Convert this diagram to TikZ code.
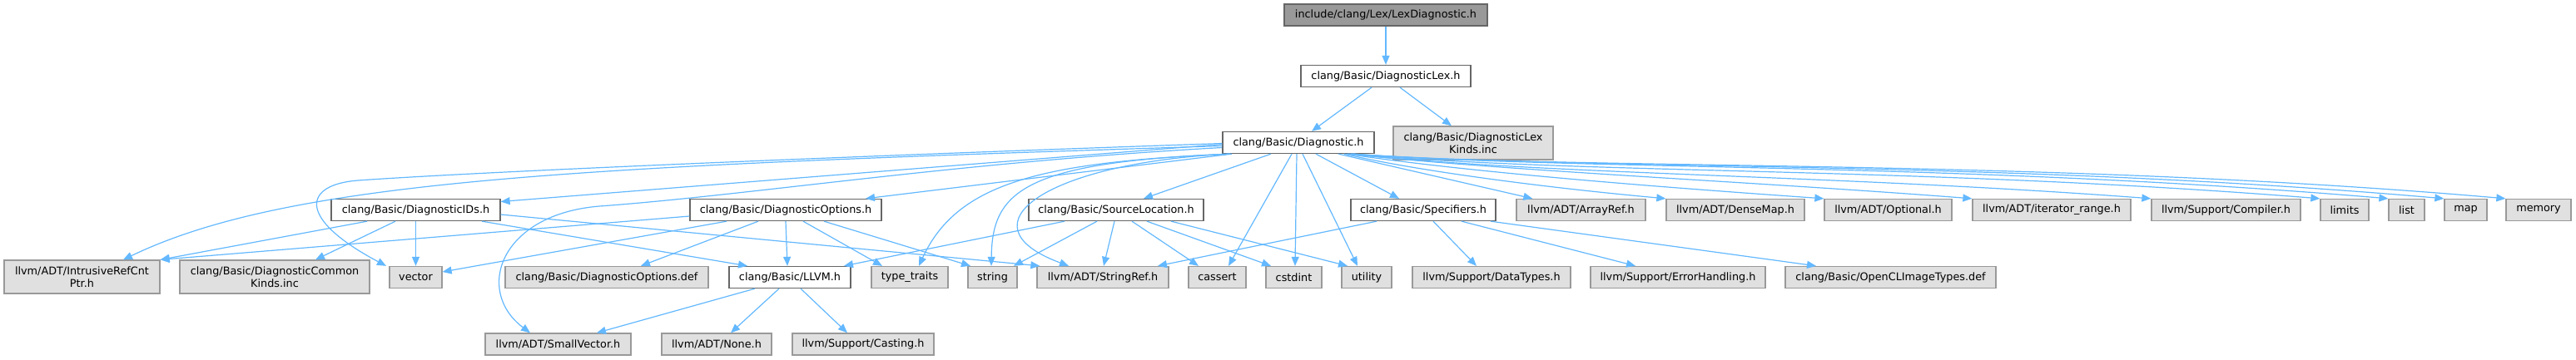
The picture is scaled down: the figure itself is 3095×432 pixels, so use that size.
\documentclass[tikz,border=0pt]{standalone}
\usepackage{fontspec}
\setmainfont{DejaVu Sans}
\usetikzlibrary{arrows.meta}
\definecolor{edgec}{HTML}{63B8FF}
\definecolor{boxgray}{HTML}{E0E0E0}
\definecolor{bordgray}{HTML}{999999}
\definecolor{bordwhite}{HTML}{666666}
\definecolor{rootgray}{HTML}{999999}
\begin{document}
\begin{tikzpicture}[x=1pt,y=-1pt,
  box/.style={rectangle, inner sep=0pt, minimum height=26pt, font=\fontsize{12.8}{15}\selectfont, line width=1.3pt, align=center},
  gbox/.style={box, fill=boxgray, draw=bordgray},
  wbox/.style={box, fill=white, draw=bordwhite},
  rbox/.style={box, fill=rootgray, draw=bordwhite},
  tall/.style={minimum height=40pt},
  edge/.style={draw=edgec, line width=1.2pt, -{Triangle[length=11pt,width=9pt]}}
]
\useasboundingbox (0,0) rectangle (3095,432);
% row 0-2
\node[rbox, minimum width=244pt] (root) at (1665,18) {include/clang/Lex/LexDiagnostic.h};
\node[wbox, minimum width=204pt] (dlex) at (1665,91.5) {clang/Basic/DiagnosticLex.h};
\node[wbox, minimum width=182pt] (diag) at (1560,171.5) {clang/Basic/Diagnostic.h};
\node[gbox, tall, minimum width=192pt] (lexkinds) at (1770,172) {clang/Basic/DiagnosticLex\\Kinds.inc};
% row 3
\node[wbox, minimum width=203pt] (ids) at (499.5,252.5) {clang/Basic/DiagnosticIDs.h};
\node[wbox, minimum width=230pt] (opts) at (944,252.5) {clang/Basic/DiagnosticOptions.h};
\node[wbox, minimum width=210pt] (srcloc) at (1341,252.5) {clang/Basic/SourceLocation.h};
\node[wbox, minimum width=174pt] (spec) at (1710,252.5) {clang/Basic/Specifiers.h};
\node[gbox, minimum width=155pt] (arrayref) at (1899.5,252.5) {llvm/ADT/ArrayRef.h};
\node[gbox, minimum width=166pt] (densemap) at (2085,252.5) {llvm/ADT/DenseMap.h};
\node[gbox, minimum width=153pt] (optional) at (2268.5,252.5) {llvm/ADT/Optional.h};
\node[gbox, minimum width=190pt] (iterrange) at (2465,252.5) {llvm/ADT/iterator\_range.h};
\node[gbox, minimum width=179pt] (compiler) at (2674.5,252.5) {llvm/Support/Compiler.h};
\node[gbox, minimum width=58pt] (limits) at (2817,252.5) {limits};
\node[gbox, minimum width=43pt] (list) at (2891.5,252.5) {list};
\node[gbox, minimum width=51pt] (map) at (2962.5,252.5) {map};
\node[gbox, minimum width=78pt] (memory) at (3050,252.5) {memory};
% row 4
\node[gbox, tall, minimum width=187pt] (intrusive) at (98.5,333) {llvm/ADT/IntrusiveRefCnt\\Ptr.h};
\node[gbox, tall, minimum width=228pt] (commonkinds) at (330,333) {clang/Basic/DiagnosticCommon\\Kinds.inc};
\node[gbox, minimum width=63pt] (vector) at (499.5,333.5) {vector};
\node[gbox, minimum width=244pt] (optdef) at (729,333.5) {clang/Basic/DiagnosticOptions.def};
\node[wbox, minimum width=146pt] (llvm) at (949,333.5) {clang/Basic/LLVM.h};
\node[gbox, minimum width=92pt] (typetraits) at (1093,333.5) {type\_traits};
\node[gbox, minimum width=59pt] (string) at (1192.5,333.5) {string};
\node[gbox, minimum width=158pt] (stringref) at (1325,333.5) {llvm/ADT/StringRef.h};
\node[gbox, minimum width=69pt] (cassert) at (1462.5,333.5) {cassert};
\node[gbox, minimum width=67pt] (cstdint) at (1554.5,333.5) {cstdint};
\node[gbox, minimum width=60pt] (utility) at (1642,333.5) {utility};
\node[gbox, minimum width=190pt] (datatypes) at (1792,333.5) {llvm/Support/DataTypes.h};
\node[gbox, minimum width=210pt] (errhandling) at (2016,333.5) {llvm/Support/ErrorHandling.h};
\node[gbox, minimum width=253pt] (opencl) at (2271.5,333.5) {clang/Basic/OpenCLImageTypes.def};
% row 5
\node[gbox, minimum width=175pt] (smallvec) at (670.5,414) {llvm/ADT/SmallVector.h};
\node[gbox, minimum width=132pt] (none) at (861,414) {llvm/ADT/None.h};
\node[gbox, minimum width=170pt] (casting) at (1037,414) {llvm/Support/Casting.h};

% edges
\draw[edge] (root) -- (dlex);
\draw[edge] ([xshift=-17pt]dlex.south) -- ([xshift=16pt]diag.north);
\draw[edge] ([xshift=17pt]dlex.south) -- ([xshift=-26pt]lexkinds.north);

% Diagnostic.h to the left
\draw[edge] ([yshift=-2pt]diag.west) -- ([yshift=10pt]ids.east);
\draw[edge] ([yshift=-4pt]diag.west) .. controls (700,200) and (350,215) .. ([xshift=49.5pt]intrusive.north);
\draw[edge] ([yshift=-1pt]diag.west) .. controls (1100,185) and (600,205) .. (430,217) .. controls (365,222) and (355,262) .. ([xshift=-35.5pt]vector.north);
\draw[edge] ([yshift=-6pt]diag.west) .. controls (1150,195) and (900,235) .. (720,248) .. controls (600,258) and (570,350) .. ([xshift=-33.5pt]smallvec.north);
\draw[edge] ([xshift=-80pt]diag.south) -- ([xshift=96pt]opts.north);
\draw[edge] ([xshift=-82pt]diag.south) .. controls (1250,195) and (1150,220) .. ([xshift=11pt]typetraits.north);
\draw[edge] ([xshift=-82pt]diag.south) .. controls (1230,195) and (1192,230) .. ([xshift=-1.5pt]string.north);
\draw[edge] ([xshift=-82pt]diag.south) .. controls (1260,195) and (1150,270) .. ([xshift=-41pt]stringref.north);
% Diagnostic.h downwards
\draw[edge] ([xshift=-33pt]diag.south) -- ([xshift=33pt]srcloc.north);
\draw[edge] ([xshift=-8pt]diag.south) -- ([xshift=13.5pt]cassert.north);
\draw[edge] ([xshift=-2pt]diag.south) -- ([xshift=1.5pt]cstdint.north);
\draw[edge] ([xshift=5pt]diag.south) -- ([xshift=-11pt]utility.north);
\draw[edge] ([xshift=21pt]diag.south) -- ([xshift=-29pt]spec.north);
% Diagnostic.h to the right
\draw[edge] ([xshift=48pt]diag.south) -- ([xshift=20pt]arrayref.north west);
\draw[edge] ([xshift=55pt]diag.south) .. controls (1700,205) and (1850,225) .. (densemap.north west);
\draw[edge] ([xshift=58pt]diag.south) .. controls (1750,205) and (1950,222) .. (optional.north west);
\draw[edge] ([xshift=60pt]diag.south) .. controls (1800,205) and (2100,218) .. (iterrange.north west);
\draw[edge] ([xshift=62pt]diag.south) .. controls (1850,210) and (2200,210) .. (compiler.north west);
\draw[edge] ([xshift=63pt]diag.south) .. controls (1900,210) and (2300,200) .. (limits.north west);
\draw[edge] ([xshift=64pt]diag.south) .. controls (1900,205) and (2350,195) .. (list.north west);
\draw[edge] ([xshift=65pt]diag.south) .. controls (1900,205) and (2400,192) .. (map.north west);
\draw[edge] ([xshift=66pt]diag.south) .. controls (1900,205) and (2450,190) .. (memory.north west);

% DiagnosticIDs.h
\draw[edge] ([xshift=-58.5pt]ids.south) -- (intrusive.north east);
\draw[edge] ([xshift=-24.5pt]ids.south) -- ([xshift=49pt]commonkinds.north);
\draw[edge] (ids) -- (vector);
\draw[edge] ([xshift=79.5pt]ids.south) -- ([xshift=-51pt]llvm.north);
\draw[edge] ([yshift=-5.5pt]ids.east) -- ([xshift=4pt]stringref.north west);

% DiagnosticOptions.h
\draw[edge] ([yshift=-7.5pt]opts.west) -- (intrusive.north east);
\draw[edge] ([xshift=-71pt]opts.south) -- ([yshift=6.5pt]vector.east);
\draw[edge] ([xshift=-33pt]opts.south) -- ([xshift=41pt]optdef.north);
\draw[edge] (opts.south) -- ([xshift=-3pt]llvm.north);
\draw[edge] ([xshift=21pt]opts.south) -- ([xshift=-33pt]typetraits.north);
\draw[edge] ([xshift=46pt]opts.south) -- ([xshift=-26.5pt]string.north);

% SourceLocation.h
\draw[edge] ([xshift=-62pt]srcloc.south) -- ([xshift=65pt]llvm.north);
\draw[edge] ([xshift=-23pt]srcloc.south) -- ([xshift=25.5pt]string.north);
\draw[edge] ([xshift=-2pt]srcloc.south) -- ([xshift=1pt]stringref.north);
\draw[edge] ([xshift=19pt]srcloc.south) -- ([xshift=-22.5pt]cassert.north);
\draw[edge] ([xshift=37pt]srcloc.south) -- ([xshift=-27.5pt]cstdint.north);
\draw[edge] ([xshift=66pt]srcloc.south) -- ([xshift=-23pt]utility.north);

% Specifiers.h
\draw[edge] ([xshift=-56pt]spec.south) -- ([xshift=66pt]stringref.north);
\draw[edge] ([xshift=12pt]spec.south) -- ([xshift=-18pt]datatypes.north);
\draw[edge] ([xshift=46pt]spec.south) -- ([xshift=-51pt]errhandling.north);
\draw[edge] ([xshift=81pt]spec.south) -- ([xshift=-89.5pt]opencl.north);

% LLVM.h
\draw[edge] ([xshift=-42pt]llvm.south) -- ([xshift=46.5pt]smallvec.north);
\draw[edge] ([xshift=-13pt]llvm.south) -- ([xshift=17pt]none.north);
\draw[edge] ([xshift=13pt]llvm.south) -- ([xshift=-19pt]casting.north);
\end{tikzpicture}
\end{document}
